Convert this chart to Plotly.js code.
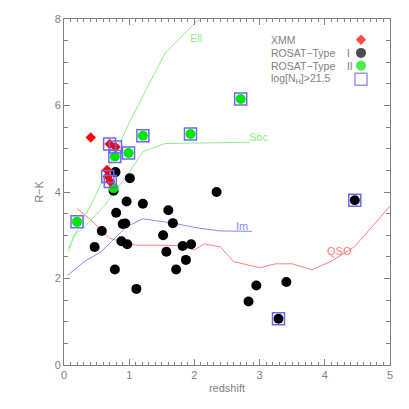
<!DOCTYPE html>
<html>
<head>
<meta charset="utf-8">
<script src="https://cdn.plot.ly/plotly-3.0.1.min.js"></script>
<style>
  html, body { margin: 0; padding: 0; background: #fff; }
  #chart { width: 409px; height: 409px; }
</style>
</head>
<body>
<div id="chart"></div>
<script>
// XMM sources (red diamonds), abs = 1 when log NH > 21.5
const xmmZ   = [0.41, 0.70, 0.79, 0.66, 0.67, 0.71];
const xmmRK  = [5.26, 5.11, 5.04, 4.51, 4.36, 4.24];
const xmmAbs = [0, 1, 1, 0, 1, 1];

// ROSAT type I (black)
const t1Z   = [0.79, 1.01, 0.76, 0.96, 1.21, 0.80, 1.60, 2.34, 0.90, 0.94, 1.67, 0.58, 1.52, 0.88,
               0.97, 0.47, 1.82, 1.95, 1.57, 1.87, 0.78, 1.72, 1.11, 4.46, 2.95, 3.41, 2.83, 3.29];
const t1RK  = [4.46, 4.32, 4.03, 3.78, 3.73, 3.52, 3.58, 4.00, 3.26, 3.27, 3.28, 3.10, 3.00, 2.86,
               2.79, 2.73, 2.75, 2.79, 2.62, 2.43, 2.21, 2.21, 1.76, 3.81, 1.84, 1.92, 1.47, 1.07];
const t1Abs = [0, 0, 0, 0, 0, 0, 0, 0, 0, 0, 0, 0, 0, 0,
               0, 0, 0, 0, 0, 0, 0, 0, 0, 1, 0, 0, 0, 1];

// ROSAT type II (green)
const t2Z   = [0.20, 0.76, 0.78, 0.99, 1.21, 1.94, 2.71];
const t2RK  = [3.31, 4.09, 4.82, 4.90, 5.30, 5.34, 6.15];
const t2Abs = [1, 0, 1, 1, 1, 1, 1];

// template tracks
const ellZ  = [0.07, 0.25, 0.42, 1.01, 1.55, 2.03, 2.11];
const ellRK = [2.70, 3.25, 3.72, 5.63, 7.21, 7.94, 8.00];
const sbcZ  = [0.07, 0.15, 0.32, 0.63, 0.78, 1.00, 1.21, 1.55, 2.85];
const sbcRK = [2.62, 3.00, 3.20, 3.70, 4.01, 4.45, 4.93, 5.12, 5.15];
const imZ   = [0.06, 0.32, 0.57, 0.96, 1.21, 1.67, 2.08, 2.40, 2.88];
const imRK  = [2.08, 2.40, 2.62, 3.20, 3.38, 3.28, 3.16, 3.10, 3.09];
const qsoZ  = [0.20, 0.45, 0.70, 0.90, 1.10, 1.50, 1.75, 2.00, 2.15, 2.40, 2.60, 3.00, 3.25,
               3.50, 3.80, 4.10, 4.45, 4.75, 5.00];
const qsoRK = [3.62, 3.30, 2.93, 2.85, 2.77, 2.77, 2.76, 2.66, 2.80, 2.73, 2.39, 2.25, 2.34,
               2.34, 2.20, 2.40, 2.73, 3.24, 3.68];

const trackNames = ['Ell', 'Sbc', 'Im', 'QSO'];
const legendLabels = ['XMM', 'ROSAT\u2212Type\u00a0\u00a0\u00a0\u00a0I', 'ROSAT\u2212Type\u00a0\u00a0\u00a0\u00a0II',
                      'log[N<sub>H</sub>]>21.5'];

const GREEN_L = '#8cf08c', BLUE_L = '#8888ff', RED_L = '#ff8080';
const GREY = '#808080';
const BOX = '#6a6af0';
const FONT = 'Liberation Sans, Arial, sans-serif';

function line(x, y, color) {
  return { x: x, y: y, type: 'scatter', mode: 'lines',
           line: { color: color, width: 1 }, hoverinfo: 'skip', showlegend: false };
}

function pts(x, y, symbol, color, size) {
  return { x: x, y: y, type: 'scatter', mode: 'markers', showlegend: false,
           marker: { symbol: symbol, color: color, size: size, line: { width: 0 } } };
}

// collect absorbed objects for the open boxes
const boxZ = [], boxRK = [];
[[xmmZ, xmmRK, xmmAbs], [t1Z, t1RK, t1Abs], [t2Z, t2RK, t2Abs]].forEach(s => {
  s[2].forEach((a, i) => { if (a) { boxZ.push(s[0][i]); boxRK.push(s[1][i]); } });
});

const legendY = [0.940, 0.902, 0.865, 0.826];

const traces = [
  line(ellZ, ellRK, GREEN_L),
  line(sbcZ, sbcRK, GREEN_L),
  line(imZ, imRK, BLUE_L),
  line(qsoZ, qsoRK, RED_L),
  pts(t1Z, t1RK, 'circle', '#000000', 10),
  pts(t2Z, t2RK, 'circle', '#00e600', 10),
  pts(xmmZ, xmmRK, 'diamond', '#ff0000', 8),
  { x: boxZ, y: boxRK, type: 'scatter', mode: 'markers', showlegend: false,
    marker: { symbol: 'square-open', size: 12, color: BOX, line: { width: 1.5, color: BOX } } },
  // legend symbols on an overlay axis (0..1)
  { x: [0.911, 0.911, 0.911, 0.911], y: legendY,
    xaxis: 'x2', yaxis: 'y2', type: 'scatter', mode: 'markers', showlegend: false,
    marker: { symbol: ['diamond', 'circle', 'circle', 'square-open'],
              color: ['#ff0000', '#000000', '#00e600', BOX],
              size: [8, 10, 10, 12],
              line: { width: [0, 0, 0, 1.5], color: ['#ff0000', '#000000', '#00e600', BOX] } } }
];

const trackLabelPos = [[1.905, 7.57, GREEN_L], [2.80, 5.27, GREEN_L], [2.61, 3.22, BLUE_L], [4.00, 2.64, RED_L]];
const annotations = trackNames.map((t, i) => ({
  x: trackLabelPos[i][0], y: trackLabelPos[i][1], xref: 'x', yref: 'y', text: t,
  showarrow: false, xanchor: 'left', yanchor: 'middle',
  font: { family: FONT, size: 11, color: trackLabelPos[i][2] }
}));
legendLabels.forEach((t, i) => {
  annotations.push({ x: 0.628, y: legendY[i], xref: 'paper', yref: 'paper', text: t,
    showarrow: false, xanchor: 'left', yanchor: 'middle',
    font: { family: FONT, size: 10.5, color: GREY } });
});

const axisCommon = {
  showgrid: false, zeroline: false, showline: true, linecolor: GREY, linewidth: 1,
  mirror: 'allticks', ticks: 'inside', tickcolor: GREY, tickwidth: 1,
  tickfont: { family: FONT, size: 11, color: GREY }
};

const layout = {
  width: 409, height: 409,
  margin: { l: 64, r: 19, t: 19, b: 44 },
  paper_bgcolor: '#fff', plot_bgcolor: '#fff',
  showlegend: false,
  xaxis: Object.assign({}, axisCommon, {
    range: [0, 5], dtick: 1, ticklen: 6,
    minor: { dtick: 0.1, ticks: 'inside', ticklen: 3, tickcolor: GREY },
    title: { text: 'redshift', standoff: 4, font: { family: FONT, size: 11, color: GREY } }
  }),
  yaxis: Object.assign({}, axisCommon, {
    range: [0, 8], dtick: 2, ticklen: 6,
    minor: { dtick: 0.5, ticks: 'inside', ticklen: 4, tickcolor: GREY },
    title: { text: 'R\u2212K', standoff: 8, font: { family: FONT, size: 11, color: GREY } }
  }),
  xaxis2: { overlaying: 'x', range: [0, 1], visible: false },
  yaxis2: { overlaying: 'y', range: [0, 1], visible: false },
  annotations: annotations
};

Plotly.newPlot('chart', traces, layout, { displayModeBar: false, staticPlot: true });
</script>
</body>
</html>
